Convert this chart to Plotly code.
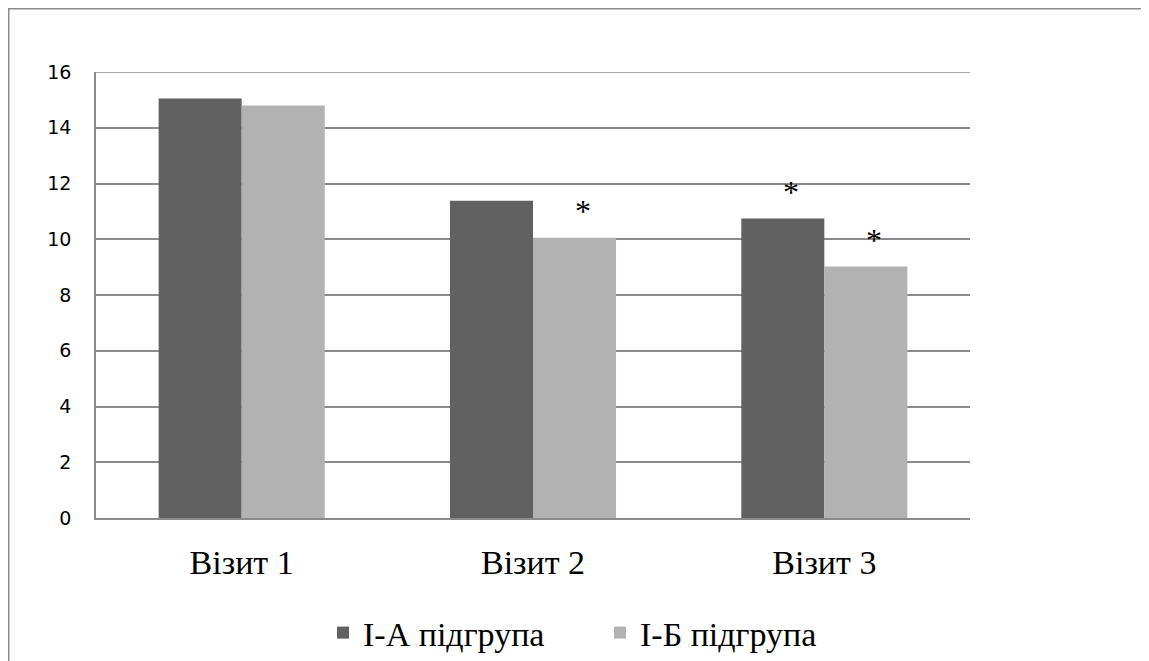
import plotly.graph_objects as go

categories = ["Візит 1", "Візит 2", "Візит 3"]
series_a_name = "І-А підгрупа"
series_b_name = "І-Б підгрупа"
series_a = [15.05, 11.38, 10.74]
series_b = [14.8, 10.05, 9.02]
# significance marks: (category index, series, label)
stars = [(1, "b", "*"), (2, "a", "*"), (2, "b", "*")]
y_ticks = [0, 2, 4, 6, 8, 10, 12, 14, 16]

DARK = "#616161"
LIGHT = "#b2b2b2"
GRID = "#8a8a8a"
SERIF = "Liberation Serif, Times New Roman, serif"
SANS = "DejaVu Sans, Open Sans, sans-serif"

# the page body adds an 8px margin, so the figure is sized to the window minus that
W, H = 1141, 653
L, R, T, B = 88, 962, 64, 510

fig = go.Figure()
fig.add_trace(go.Bar(x=categories, y=series_a, name=series_a_name,
                     marker=dict(color=DARK, line=dict(width=0))))
fig.add_trace(go.Bar(x=categories, y=series_b, name=series_b_name,
                     marker=dict(color=LIGHT, line=dict(width=0))))

pw = R - L
ph = B - T
bar_px = pw / 3 * (1 - 0.43) / 2
for ci, s, lab in stars:
    val = series_a[ci] if s == "a" else series_b[ci]
    off = -bar_px / 2 if s == "a" else bar_px / 2
    fig.add_annotation(x=categories[ci], y=val, xref="x", yref="y", text=lab,
                       showarrow=False, xanchor="center", yanchor="bottom",
                       xshift=off + 8, yshift=7,
                       font=dict(family=SERIF, size=32, color="black"))

# top gridline at the range edge
fig.add_shape(type="line", xref="paper", yref="y", x0=0, x1=1, y0=y_ticks[-1], y1=y_ticks[-1],
              line=dict(color=GRID, width=1.5))

# outer frame (left and top edges)
fx0 = (0.75 - L) / pw
fy_top = 1 + (T - 0.75) / ph
fy_bot = (B - H - 5) / ph
fx1 = (W + 5 - L) / pw
fig.add_shape(type="path", xref="paper", yref="paper",
              path=f"M {fx0},{fy_bot} L {fx0},{fy_top} L {fx1},{fy_top}",
              line=dict(color="#8c8c8c", width=1.5))

fig.update_layout(
    width=W, height=H,
    margin=dict(l=L, r=W - R, t=T, b=H - B, pad=0, autoexpand=False),
    paper_bgcolor="white", plot_bgcolor="white",
    barmode="group", bargap=0.43, bargroupgap=0,
    showlegend=True,
    legend=dict(orientation="h", xref="container", yref="container",
                x=315 / W, xanchor="left", y=(H - 625) / H, yanchor="middle",
                entrywidth=232,
                font=dict(family=SERIF, size=34, color="black"),
                bgcolor="rgba(0,0,0,0)", traceorder="normal"),
    xaxis=dict(showline=True, linecolor=GRID, linewidth=1.5, showgrid=False,
               ticks="", tickfont=dict(family=SERIF, size=34, color="black"),
               ticklabelstandoff=13, automargin=False),
    yaxis=dict(range=[0, 16], tickvals=y_ticks, showgrid=True, gridcolor=GRID,
               gridwidth=1.5, zeroline=False, showline=True, linecolor=GRID,
               linewidth=1.5, ticks="", ticklabelstandoff=19, automargin=False,
               tickfont=dict(family=SANS, size=19, color="black")),
)

fig.write_html("out.html")
